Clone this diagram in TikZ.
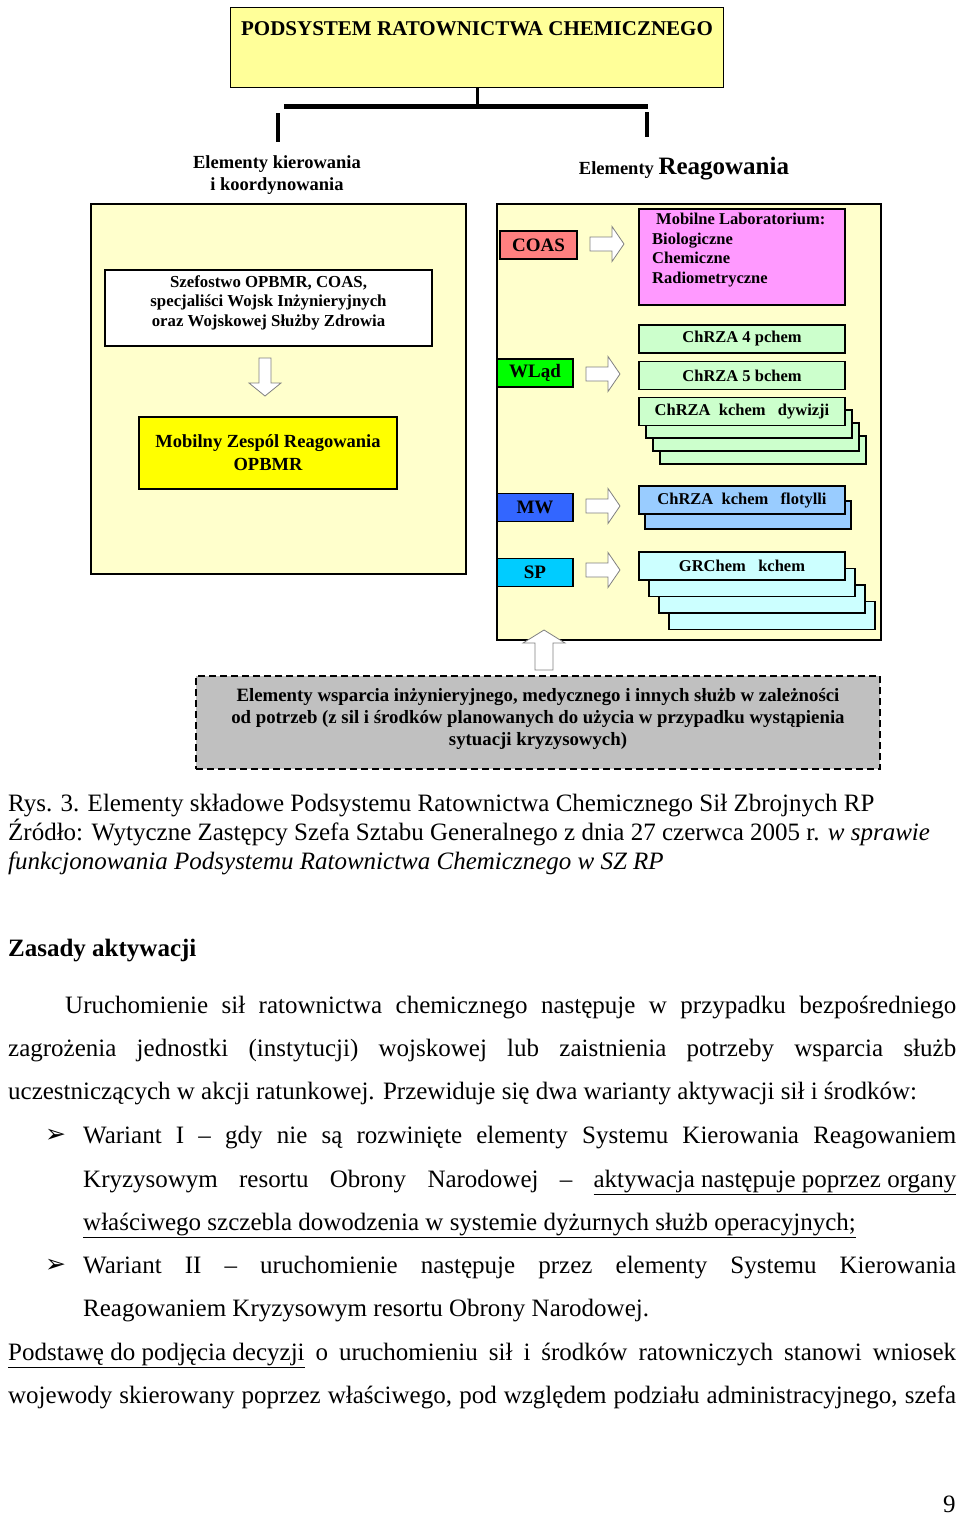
\documentclass[tikz,border=0pt]{standalone}
\usepackage{fontspec}
\setmainfont{Liberation Serif}
\newfontfamily\symfont{DejaVu Sans}
\usetikzlibrary{positioning}

\definecolor{paleyellow}{HTML}{FFFFCC}
\definecolor{titleyellow}{HTML}{FFFF99}
\definecolor{brightyellow}{HTML}{FFFF00}
\definecolor{coasred}{HTML}{FF8080}
\definecolor{wladgreen}{HTML}{00FF00}
\definecolor{mwblue}{HTML}{3366FF}
\definecolor{spcyan}{HTML}{00CCFF}
\definecolor{labviolet}{HTML}{FF99FF}
\definecolor{chrzagreen}{HTML}{CCFFCC}
\definecolor{flotblue}{HTML}{99CCFF}
\definecolor{grcyan}{HTML}{CCFFFF}
\definecolor{supportgray}{HTML}{C0C0C0}

\tikzset{
  panel/.style={draw, line width=1.4pt, fill=paleyellow, inner sep=0pt},
  unit/.style={draw, line width=1.3pt, inner sep=0pt, minimum width=206, minimum height=28,
    font=\fontsize{16.5}{19}\selectfont\bfseries},
  branch/.style={draw, line width=1.3pt, inner sep=0pt, minimum width=77, minimum height=28,
    font=\fontsize{19}{21}\selectfont\bfseries},
  blockarrow/.style={draw=gray, line width=0.8pt, fill=white},
  rarrow/.pic={\draw[blockarrow] (0,-7) -- (22,-7) -- (22,-17.5) -- (34,0) -- (22,17.5) -- (22,7) -- (0,7) -- cycle;},
  darrow/.pic={\draw[blockarrow] (-6,0) -- (6,0) -- (6,25) -- (16,25) -- (0,38) -- (-16,25) -- (-6,25) -- cycle;},
  uarrow/.pic={\draw[blockarrow] (-9,40) -- (9,40) -- (9,13) -- (21,13) -- (0,0) -- (-21,13) -- (-9,13) -- cycle;},
  bodyline/.style={anchor=base west, inner sep=0pt, font=\fontsize{25}{30}\selectfont},
  capline/.style={anchor=base west, inner sep=0pt, font=\fontsize{25}{29}\selectfont},
}
\newcommand{\fullline}[2]{\makebox[#1pt][s]{#2}}
\newcommand{\liftlines}[2]{\raisebox{#1pt}[\height][\depth]{\begin{tabular}{@{}c@{}}#2\end{tabular}}}

\begin{document}
\begin{tikzpicture}[x=1pt,y=-1pt]
\useasboundingbox (0,0) rectangle (960,1515);

% naglowek
\node[draw, line width=1.3pt, fill=titleyellow, anchor=north, minimum width=493, inner ysep=14pt,
  text height=14pt, text depth=38pt, font=\fontsize{21}{23}\selectfont\bfseries] (title) at (477,7)
  {PODSYSTEM RATOWNICTWA CHEMICZNEGO};
\coordinate (barM) at (477,106);
\coordinate (barL) at (284,106);
\coordinate (barR) at (648,106);
\coordinate (tickL1) at (278,113);
\coordinate (tickL2) at (278,142);
\coordinate (tickR1) at (647,112);
\coordinate (tickR2) at (647,137);
\draw[line width=3pt] (title.south) -- (barM);
\draw[line width=5pt] (barL) -- (barR);
\draw[line width=4pt] (tickL1) -- (tickL2);
\draw[line width=4pt] (tickR1) -- (tickR2);

\node[align=center, font=\fontsize{18.5}{22}\selectfont\bfseries] (kiertxt) at (277,175)
  {Elementy kierowania\\ i koordynowania};
\node[font=\fontsize{18.5}{21}\selectfont\bfseries] (reagtxt) at (684,169)
  {Elementy {\fontsize{25}{27}\selectfont Reagowania}};

% elementy kierowania
\node[panel, minimum width=375, minimum height=370] (kier) at (278.5,389) {};
\node[draw, line width=1.3pt, fill=white, minimum width=327, minimum height=76, inner sep=0pt,
  font=\fontsize{16.8}{19.5}\selectfont\bfseries] (szef) at (268.5,308)
  {\liftlines{5}{Szefostwo OPBMR, COAS,\\ specjaliści Wojsk Inżynieryjnych\\ oraz Wojskowej Służby Zdrowia}};
\pic at (265,358) {darrow};
\node[draw, line width=1.3pt, fill=brightyellow, minimum width=258, minimum height=72, inner sep=0pt,
  align=center, font=\fontsize{18.5}{23}\selectfont\bfseries] (mzr) at (268,453)
  {Mobilny Zespól Reagowania\\ OPBMR};

% elementy reagowania
\node[panel, minimum width=384, minimum height=436] (reag) at (689,422) {};

\node[branch, fill=coasred] (coas) at (538.5,245) {COAS};
\pic at (590,244) {rarrow};
\node[draw, line width=1.3pt, fill=labviolet, minimum width=206, minimum height=96, inner sep=0pt]
  (lab) at (742,257) {};
\node[anchor=north west, inner sep=0pt, align=left, font=\fontsize{16.5}{19.5}\selectfont\bfseries]
  (labtxt) at (652,213) {\hspace{4pt}Mobilne Laboratorium:\\ Biologiczne\\ Chemiczne\\ Radiometryczne};

\node[unit, fill=chrzagreen] (chrza4) at (742,339) {ChRZA 4 pchem};
\node[branch, fill=wladgreen, minimum width=76] (wlad) at (535,373) {WLąd};
\pic at (586,374) {rarrow};
\node[unit, fill=chrzagreen] (chrza5) at (742,375.5) {ChRZA 5 bchem};
\foreach \k in {3,2,1}
  \draw[line width=1.3pt, fill=chrzagreen] (639+7*\k,397+13*\k) rectangle ++(206,28);
\node[unit, fill=chrzagreen] (dyw) at (742,411.5) {ChRZA\ \ kchem\ \ \ dywizji};

\node[branch, fill=mwblue, minimum width=76] (mw) at (535,507.5) {MW};
\pic at (586,506) {rarrow};
\draw[line width=1.3pt, fill=flotblue] (645,501) rectangle ++(206,28);
\node[unit, fill=flotblue] (flot) at (742,500) {ChRZA\ \ kchem\ \ \ flotylli};

\node[branch, fill=spcyan, minimum width=76] (sp) at (535,572.5) {SP};
\pic at (586,570) {rarrow};
\foreach \k in {3,2,1}
  \draw[line width=1.3pt, fill=grcyan] (639+10*\k,552+16.5*\k) rectangle ++(206,28);
\node[unit, fill=grcyan] (grchem) at (742,566) {GRChem\ \ \ kchem};

% wsparcie
\pic at (544,630) {uarrow};
\node[draw, dash pattern=on 7pt off 4pt, line width=1.3pt, fill=supportgray, minimum width=684,
  minimum height=93, inner sep=0pt, font=\fontsize{18.8}{22}\selectfont\bfseries] (wsparcie) at (538,722.5)
  {\liftlines{3}{Elementy wsparcia inżynieryjnego, medycznego i innych służb w zależności\\
   od potrzeb (z sil i środków planowanych do użycia w przypadku wystąpienia\\
   sytuacji kryzysowych)}};

% podpis
\node[capline] (rys) at (8,811) {Rys. 3. Elementy składowe Podsystemu Ratownictwa Chemicznego Sił Zbrojnych RP};
\node[capline] (zrodlo) at (8,840) {Źródło: Wytyczne Zastępcy Szefa Sztabu Generalnego z dnia 27 czerwca 2005 r. \textit{w sprawie}};
\node[capline] (zrodlo2) at (8,869) {\textit{funkcjonowania Podsystemu Ratownictwa Chemicznego w SZ RP}};

% tekst
\node[bodyline, font=\fontsize{25}{30}\selectfont\bfseries] (zasady) at (8,956) {Zasady aktywacji};
\node[bodyline] (l1) at (65,1013) {\fullline{891}{Uruchomienie sił ratownictwa chemicznego następuje w przypadku bezpośredniego}};
\node[bodyline] (l2) at (8,1056) {\fullline{948}{zagrożenia jednostki (instytucji) wojskowej lub zaistnienia potrzeby wsparcia służb}};
\node[bodyline] (l3) at (8,1099) {uczestniczących w akcji ratunkowej. Przewiduje się dwa warianty aktywacji sił i środków:};
\node[bodyline, font=\fontsize{25}{28}\selectfont\symfont] (b1) at (45,1142) {➢};
\node[bodyline] (l4) at (83,1143) {\fullline{873}{Wariant I – gdy nie są rozwinięte elementy Systemu Kierowania Reagowaniem}};
\node[bodyline] (l5) at (83,1187) {\fullline{873}{Kryzysowym resortu Obrony Narodowej – \underline{aktywacja następuje poprzez organy}}};
\node[bodyline] (l6) at (83,1230) {\underline{właściwego szczebla dowodzenia w systemie dyżurnych służb operacyjnych;}};
\node[bodyline, font=\fontsize{25}{28}\selectfont\symfont] (b2) at (45,1272) {➢};
\node[bodyline] (l7) at (83,1273) {\fullline{873}{Wariant II – uruchomienie następuje przez elementy Systemu Kierowania}};
\node[bodyline] (l8) at (83,1316) {Reagowaniem Kryzysowym resortu Obrony Narodowej.};
\node[bodyline] (l9) at (8,1360) {\fullline{948}{\underline{Podstawę do podjęcia decyzji} o uruchomieniu sił i środków ratowniczych stanowi wniosek}};
\node[bodyline] (l10) at (8,1403) {\fullline{948}{wojewody skierowany poprzez właściwego, pod względem podziału administracyjnego, szefa}};

\node[bodyline] (strona) at (943,1512) {9};
\end{tikzpicture}
\end{document}
